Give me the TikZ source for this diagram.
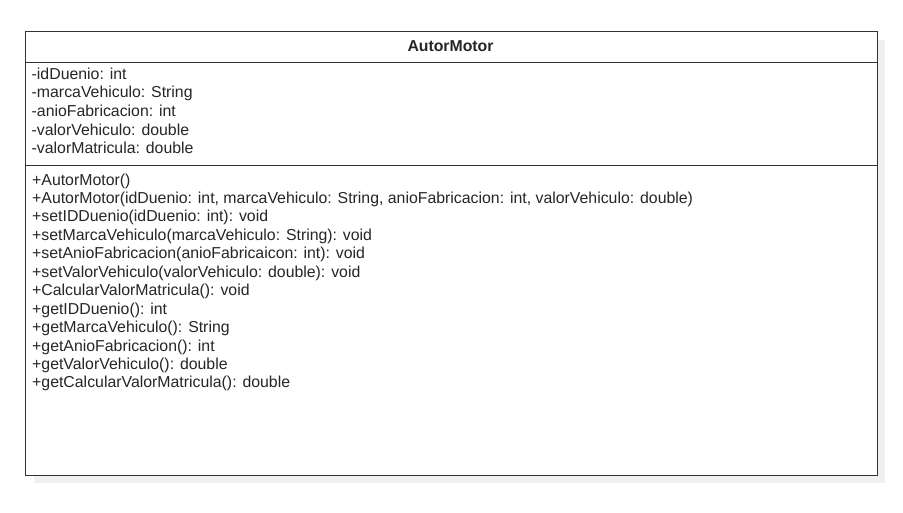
\documentclass[tikz,border=0pt]{standalone}
\usepackage{fontspec}
\setmainfont{Liberation Sans}
\definecolor{shadowgray}{HTML}{F0F0F0}
\definecolor{edgegray}{HTML}{333333}
\tikzset{
  member/.style={anchor=base west, inner sep=0pt, font=\fontsize{15.85}{18}\selectfont, text=black!85},
  classbox/.style={draw=edgegray, line width=1pt, fill=white},
  shadowbox/.style={fill=shadowgray, draw=none},
}
\begin{document}
\begin{tikzpicture}[x=1pt,y=-1pt]
\useasboundingbox (0,0) rectangle (903,512);
\fill[white] (0,0) rectangle (903,512);
\fill[shadowbox] (34,40) rectangle (885,483);
\draw[classbox] (25,31) rectangle (877,475);
\draw[edgegray, line width=1pt] (25,62) -- (877,62);
\draw[edgegray, line width=1pt] (25,165) -- (877,165);
\node[anchor=base, inner sep=0pt, font=\fontsize{15.8}{18}\selectfont\bfseries, text=black!85] (title) at (450.5,51.3) {AutorMotor};
\foreach \t [count=\i from 0] in {
  -idDuenio: int,
  -marcaVehiculo: String,
  -anioFabricacion: int,
  -valorVehiculo: double,
  -valorMatricula: double}
  \node[member] (a\i) at (31.5,79.3+18.6*\i) {\t};
\foreach \t [count=\i from 0] in {
  +AutorMotor(),
  {+AutorMotor(idDuenio: int, marcaVehiculo: String, anioFabricacion: int, valorVehiculo: double)},
  +setIDDuenio(idDuenio: int): void,
  +setMarcaVehiculo(marcaVehiculo: String): void,
  +setAnioFabricacion(anioFabricaicon: int): void,
  +setValorVehiculo(valorVehiculo: double): void,
  +CalcularValorMatricula(): void,
  +getIDDuenio(): int,
  +getMarcaVehiculo(): String,
  +getAnioFabricacion(): int,
  +getValorVehiculo(): double,
  +getCalcularValorMatricula(): double}
  \node[member] (m\i) at (32,185+18.45*\i) {\t};
\end{tikzpicture}
\end{document}
